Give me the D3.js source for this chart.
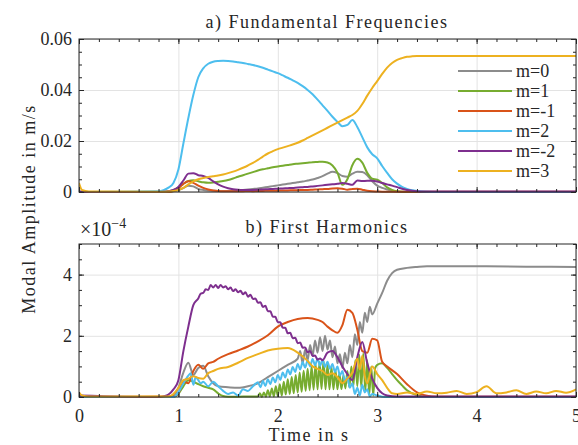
<!DOCTYPE html>
<html>
<head>
<meta charset="utf-8">
<script src="https://cdn.jsdelivr.net/npm/d3@7"></script>
<style>
  body { margin: 0; background: #fff; }
  text { font-family: "Liberation Serif", "DejaVu Serif", serif; fill: #262626; }
  .axis path { display: none; }
  .axis line { stroke: #262626; }
  .grid line { stroke: #e3e3e3; }
  .grid path { display: none; }
</style>
</head>
<body>
<script>
// series names / colours (plot order)
var modes = ["m=0", "m=1", "m=-1", "m=2", "m=-2", "m=3"];
var colors = ["#8c8c8c", "#77ac30", "#d95319", "#4dbeee", "#7e2f8e", "#edb120"];

// ---------- a) fundamental frequencies, m/s ----------
var tTop = [0, 0.03, 0.1, 0.8, 0.85, 0.9, 0.95, 1.0, 1.05, 1.1, 1.15, 1.2, 1.25, 1.3, 1.35, 1.4, 1.45, 1.5,
  1.55, 1.6, 1.65, 1.7, 1.75, 1.8, 1.85, 1.9, 1.95, 2.0, 2.05, 2.1, 2.15, 2.2, 2.25, 2.3, 2.35, 2.4, 2.45,
  2.5, 2.55, 2.6, 2.65, 2.7, 2.75, 2.8, 2.85, 2.9, 2.95, 3.0, 3.05, 3.1, 3.15, 3.2, 3.25, 3.3, 3.35, 3.4,
  3.45, 3.5, 3.6, 3.8, 4.0, 5.0];

var topM0 = [0, 0, 0, 0, 0, 0, 0.0003, 0.0008, 0.0015, 0.0025, 0.0022, 0.0012, 0.0008, 0.0006, 0.0005, 0.0004, 0.0004, 0.0004,
  0.0005, 0.0006, 0.0008, 0.001, 0.0012, 0.0014, 0.0017, 0.002, 0.0023, 0.0026, 0.0029, 0.0032, 0.0035, 0.0038, 0.0041, 0.0045, 0.0049, 0.0055, 0.0062,
  0.0072, 0.0079, 0.0074, 0.0063, 0.006, 0.0072, 0.0079, 0.0078, 0.0066, 0.0042, 0.0025, 0.0016, 0.001, 0.0005, 0.0002, 0.0001, 0, 0, 0,
  0, 0, 0, 0, 0, 0];
var topM1 = [0, 0, 0, 0, 0.0001, 0.0003, 0.0008, 0.0018, 0.0032, 0.0043, 0.0046, 0.0042, 0.0038, 0.0036, 0.0037, 0.004, 0.0043, 0.0047,
  0.0053, 0.006, 0.0066, 0.0072, 0.0078, 0.0084, 0.0089, 0.0093, 0.0097, 0.01, 0.0103, 0.0106, 0.0109, 0.0111, 0.0113, 0.0115, 0.0117, 0.0118, 0.0119,
  0.0116, 0.0104, 0.0076, 0.0028, 0.005, 0.0105, 0.013, 0.0115, 0.0075, 0.0052, 0.0048, 0.0035, 0.0018, 0.0008, 0.0003, 0.0001, 0, 0, 0,
  0, 0, 0, 0, 0, 0];
var topMm1 = [0, 0, 0, 0, 0, 0, 0.0005, 0.0015, 0.0032, 0.0042, 0.0036, 0.0025, 0.0016, 0.001, 0.0006, 0.0004, 0.0003, 0.0003,
  0.0003, 0.0003, 0.0003, 0.0004, 0.0003, 0.0004, 0.0004, 0.0005, 0.0005, 0.0005, 0.0006, 0.0006, 0.0007, 0.0007, 0.0008, 0.0008, 0.0009, 0.001, 0.0011,
  0.0012, 0.0014, 0.0015, 0.0013, 0.0009, 0.0012, 0.0013, 0.0009, 0.0005, 0.0003, 0.0002, 0.0001, 0.0001, 0.0001, 0.0001, 0.0001, 0.0001, 0.0001, 0.0001,
  0.0001, 0.0001, 0.0001, 0.0001, 0.0001, 0.0001];
var topM2 = [0, 0, 0, 0.0003, 0.0007, 0.0017, 0.0035, 0.0088, 0.019, 0.029, 0.038, 0.045, 0.0485, 0.0503, 0.0511, 0.0514, 0.0515, 0.0514,
  0.0512, 0.0509, 0.0506, 0.0502, 0.0498, 0.0493, 0.0487, 0.048, 0.0473, 0.0466, 0.0457, 0.0448, 0.0438, 0.0428, 0.0415, 0.04, 0.0383, 0.0362, 0.034,
  0.0318, 0.0295, 0.0275, 0.0258, 0.0263, 0.0282, 0.0255, 0.0215, 0.0175, 0.0148, 0.0132, 0.0102, 0.0075, 0.005, 0.0033, 0.002, 0.0012, 0.0007, 0.0004,
  0.0002, 0.0001, 0, 0, 0, 0];
var topMm2 = [0.0003, 0.0001, 0, 0, 0.0001, 0.0003, 0.0008, 0.002, 0.0045, 0.0072, 0.0074, 0.0066, 0.0063, 0.0055, 0.0042, 0.003, 0.0021, 0.0015,
  0.0011, 0.0009, 0.0008, 0.0008, 0.0008, 0.0009, 0.001, 0.0011, 0.0012, 0.0013, 0.0014, 0.0015, 0.0016, 0.0018, 0.0019, 0.002, 0.0022, 0.0024, 0.0026,
  0.0028, 0.003, 0.0032, 0.0035, 0.0032, 0.0028, 0.0045, 0.0043, 0.0044, 0.0044, 0.0041, 0.0035, 0.003, 0.0025, 0.0019, 0.0013, 0.0008, 0.0005, 0.0003,
  0.0002, 0.0002, 0.0002, 0.0002, 0.0002, 0.0002];
var topM3 = [0.0035, 0.0008, 0.0002, 0.0001, 0.0001, 0.0002, 0.0004, 0.0008, 0.0016, 0.003, 0.0042, 0.005, 0.0055, 0.0059, 0.0062, 0.0065, 0.0069, 0.0074,
  0.008, 0.0087, 0.0095, 0.0104, 0.0114, 0.0126, 0.0139, 0.0151, 0.016, 0.0168, 0.0174, 0.018, 0.0186, 0.0193, 0.0202, 0.0212, 0.0222, 0.0232, 0.0242,
  0.0252, 0.0262, 0.0272, 0.0282, 0.0292, 0.0302, 0.0318, 0.0345, 0.0378, 0.0408, 0.0435, 0.0463, 0.0488, 0.0506, 0.0518, 0.0525, 0.053, 0.0532, 0.0533,
  0.0533, 0.0533, 0.0533, 0.0533, 0.0533, 0.0533];

// ---------- b) first harmonics, x 1e-4 m/s ----------
var tBotM0 = [0, 0.9, 0.95, 1.0, 1.05, 1.1, 1.15, 1.2, 1.25, 1.3, 1.35, 1.4, 1.5, 1.6, 1.7, 1.8, 1.9, 2.0, 2.1, 2.2,
  2.225, 2.25, 2.275, 2.3, 2.325, 2.35, 2.375, 2.4, 2.425, 2.45, 2.475, 2.5, 2.525, 2.55, 2.575, 2.6, 2.625, 2.65,
  2.675, 2.7, 2.725, 2.75, 2.775, 2.8, 2.825, 2.85, 2.875, 2.9, 2.925, 2.95, 3.0, 3.05, 3.1, 3.15, 3.2, 3.3, 3.4,
  3.5, 3.7, 4.0, 4.5, 5.0];
var botM0 = [0, 0, 0.05, 0.3, 0.8, 1.12, 0.72, 0.95, 1.02, 0.68, 0.45, 0.35, 0.32, 0.3, 0.35, 0.45, 0.65, 0.85, 1.05, 1.25,
  1.5, 1.1, 1.55, 1.2, 1.7, 1.35, 1.85, 1.45, 1.95, 1.5, 2.0, 1.55, 1.85, 1.3, 1.65, 1.1, 1.4, 0.95,
  1.45, 1.1, 1.7, 1.3, 2.05, 1.7, 2.45, 2.1, 2.75, 2.45, 2.95, 2.7, 3.05, 3.4, 3.8, 4.05, 4.16, 4.22, 4.25,
  4.27, 4.27, 4.27, 4.26, 4.25];

var tBotM1 = [0, 0.95, 1.0, 1.05, 1.1, 1.15, 1.2, 1.25, 1.3, 1.35, 1.4, 1.45, 1.5, 1.6, 1.7,
  1.8, 1.82, 1.84, 1.86, 1.88, 1.9, 1.92, 1.94, 1.96, 1.98, 2.0, 2.02, 2.04, 2.06, 2.08, 2.1, 2.12, 2.14, 2.16, 2.18,
  2.2, 2.22, 2.24, 2.26, 2.28, 2.3, 2.32, 2.34, 2.36, 2.38, 2.4, 2.42, 2.44, 2.46, 2.48, 2.5, 2.52, 2.54, 2.56, 2.58,
  2.6, 2.62, 2.64, 2.66, 2.68, 2.7, 2.72, 2.74, 2.76, 2.78, 2.8, 2.82, 2.84, 2.86, 2.88, 2.9, 2.92, 2.94, 2.96, 2.98,
  3.0, 3.05, 3.1, 3.15, 3.2, 3.25, 3.3, 3.4, 3.5, 5.0];
var botM1 = [0, 0, 0.1, 0.35, 0.55, 0.5, 0.42, 0.35, 0.3, 0.25, 0.12, 0.03, 0.01, 0.01, 0.02,
  0.02, 0.12, 0, 0.15, 0.01, 0.22, 0.02, 0.28, 0.02, 0.35, 0.03, 0.42, 0.05, 0.5, 0.08, 0.58, 0.1, 0.65, 0.12, 0.72,
  0.15, 0.8, 0.17, 0.86, 0.2, 0.92, 0.22, 1.0, 0.24, 1.08, 0.25, 1.15, 0.26, 1.2, 0.25, 1.08, 0.25, 0.98, 0.25, 0.88,
  0.25, 0.78, 0.26, 0.7, 0.28, 0.85, 0.32, 1.0, 0.35, 1.2, 0.35, 1.38, 0.32, 1.42, 0.2, 1.2, 0.08, 1.0, 0.05, 0.95,
  1.05, 1.1, 0.95, 0.75, 0.55, 0.38, 0.22, 0.06, 0, 0];

var tBotMm1 = [0, 0.95, 1.0, 1.05, 1.1, 1.15, 1.2, 1.25, 1.3, 1.35, 1.4, 1.5, 1.6, 1.7, 1.8, 1.9, 2.0, 2.1, 2.2, 2.3,
  2.4, 2.45, 2.5, 2.55, 2.6, 2.65, 2.7, 2.75, 2.8, 2.85, 2.9, 2.95, 3.0, 3.05, 3.1, 3.2, 3.3, 3.4, 3.5, 3.6, 5.0];
var botMm1 = [0, 0.02, 0.12, 0.5, 0.45, 0.85, 1.05, 0.92, 1.1, 1.15, 1.25, 1.4, 1.52, 1.65, 1.82, 2.02, 2.3, 2.45, 2.55, 2.58,
  2.52, 2.45, 2.3, 2.18, 2.1, 2.35, 2.85, 2.75, 2.2, 1.5, 1.45, 1.9, 1.85, 1.15, 1.0, 0.75, 0.42, 0.15, 0.04, 0.01, 0.01];

var tBotM2 = [0, 0.95, 1.0, 1.05, 1.1, 1.125, 1.15, 1.175, 1.2, 1.225, 1.25, 1.3, 1.35, 1.4, 1.45, 1.5, 1.55, 1.6, 1.65, 1.7, 1.75,
  1.8, 1.825, 1.85, 1.875, 1.9, 1.925, 1.95, 1.975, 2.0, 2.025, 2.05, 2.075, 2.1, 2.125, 2.15, 2.175, 2.2, 2.225,
  2.25, 2.275, 2.3, 2.325, 2.35, 2.375, 2.4, 2.425, 2.45, 2.475, 2.5, 2.525, 2.55, 2.575, 2.6, 2.625, 2.65, 2.675,
  2.7, 2.725, 2.75, 2.775, 2.8, 2.825, 2.85, 2.875, 2.9, 2.925, 2.95, 3.0, 3.05, 3.1, 5.0];
var botM2 = [0, 0, 0.15, 0.45, 0.7, 0.78, 0.4, 0.65, 0.55, 0.45, 0.5, 0.35, 0.5, 0.35, 0.2, 0.1, 0.15, 0.05, 0.25, 0.2, 0.35,
  0.48, 0.32, 0.52, 0.36, 0.58, 0.42, 0.64, 0.48, 0.72, 0.56, 0.8, 0.64, 0.9, 0.74, 0.98, 0.82, 1.08, 0.9,
  1.14, 0.96, 1.2, 1.0, 1.24, 1.04, 1.25, 1.02, 1.22, 0.98, 1.15, 0.92, 1.08, 0.82, 1.0, 0.7, 0.85, 0.5,
  0.65, 0.3, 0.45, 0.1, 0.3, 0.05, 0.4, 0.15, 0.25, 0.02, 0.1, 0.05, 0.01, 0, 0];

var tBotMm2 = [0, 0.8, 0.85, 0.9, 0.95, 1.0, 1.05, 1.1, 1.15,
  1.2, 1.225, 1.25, 1.275, 1.3, 1.325, 1.35, 1.375, 1.4, 1.425,
  1.45, 1.475, 1.5, 1.525, 1.55, 1.575, 1.6, 1.625, 1.65, 1.675,
  1.7, 1.725, 1.75, 1.775, 1.8, 1.825, 1.85, 1.875, 1.9, 1.925,
  1.95, 1.975, 2.0, 2.025, 2.05, 2.075, 2.1, 2.125, 2.15, 2.175,
  2.2, 2.225, 2.25, 2.275, 2.3, 2.325, 2.35, 2.375, 2.4, 2.425,
  2.45, 2.5, 2.55, 2.6, 2.65, 2.7, 2.75, 2.8, 2.85, 2.9, 2.95, 3.0, 3.05, 3.1, 3.2, 5.0];
var botMm2 = [0.05, 0, 0.02, 0.08, 0.25, 0.55, 1.5, 2.3, 3.0,
  3.22, 3.38, 3.4, 3.52, 3.5, 3.66, 3.58, 3.66, 3.56, 3.66,
  3.58, 3.62, 3.52, 3.58, 3.46, 3.52, 3.42, 3.47, 3.36, 3.42,
  3.28, 3.34, 3.2, 3.22, 3.08, 3.1, 2.94, 2.98, 2.8, 2.8,
  2.62, 2.62, 2.44, 2.44, 2.26, 2.26, 2.08, 2.1, 1.92, 1.94,
  1.76, 1.78, 1.61, 1.62, 1.46, 1.5, 1.34, 1.36, 1.22, 1.26,
  1.2, 1.45, 1.5, 1.3, 1.0, 0.75, 0.55, 1.3, 1.8, 1.1, 0.6, 0.3, 0.12, 0.05, 0.02, 0.02];

var tBotM3 = [0, 0.03, 0.1, 0.9, 0.95, 1.0, 1.05, 1.1, 1.15, 1.2, 1.25, 1.3, 1.35, 1.4, 1.5, 1.6, 1.7, 1.8, 1.9, 2.0,
  2.1, 2.2, 2.3, 2.35, 2.4, 2.45, 2.5, 2.55, 2.6, 2.65, 2.7, 2.75, 2.8, 2.825, 2.85, 2.875, 2.9, 2.95, 3.0, 3.05,
  3.1, 3.15, 3.2, 3.3, 3.4, 3.5, 3.6, 3.7, 3.8, 3.9, 4.0, 4.1, 4.2, 4.3, 4.4, 4.5, 4.6, 4.7, 4.8, 4.9, 5.0];
var botM3 = [0.15, 0.05, 0.02, 0.02, 0.1, 0.3, 0.55, 0.6, 0.68, 0.62, 0.6, 0.78, 0.85, 0.92, 0.98, 1.12, 1.28, 1.4, 1.52, 1.58,
  1.6, 1.45, 1.18, 1.0, 0.92, 0.85, 0.72, 0.78, 0.65, 0.45, 0.6, 0.8, 1.25, 0.9, 1.35, 0.7, 0.45, 1.0, 0.75, 0.55,
  0.3, 0.12, 0.1, 0.15, 0.1, 0.18, 0.12, 0.14, 0.2, 0.1, 0.16, 0.35, 0.12, 0.15, 0.22, 0.1, 0.18, 0.12, 0.2, 0.14, 0.25];

// tick values
var xTicks = [0, 1, 2, 3, 4, 5];
var yTopTicks = [0, 0.02, 0.04, 0.06];
var yBotTicks = [0, 2, 4];

var w = 578, h = 445;
var left = 79, right = 576;

var svg = d3.select("body").append("svg")
    .attr("width", w)
    .attr("height", h);

var xScale = d3.scaleLinear().domain([0, 5]).range([left, right]);

function pts(t, v) {
    return t.map(function(d, i) { return { t: d, v: v[i] }; });
}

function drawPanel(opt) {
    var y = opt.y;
    var top = y.range()[1], bottom = y.range()[0];
    var g = svg.append("g");

    // grid
    g.append("g").attr("class", "grid")
        .attr("transform", "translate(0," + bottom + ")")
        .call(d3.axisBottom(xScale).tickValues(xTicks).tickSize(-(bottom - top)).tickFormat(""));
    g.append("g").attr("class", "grid")
        .attr("transform", "translate(" + left + ",0)")
        .call(d3.axisLeft(y).tickValues(opt.yTicks).tickSize(-(right - left)).tickFormat(""));

    // lines
    var clipId = "clip" + opt.id;
    svg.append("clipPath").attr("id", clipId)
        .append("rect").attr("x", left).attr("y", top - 1).attr("width", right - left).attr("height", bottom - top + 2);

    var line = d3.line()
        .x(function(d) { return xScale(d.t); })
        .y(function(d) { return y(d.v); })
        .curve(d3.curveMonotoneX);

    g.append("g").attr("clip-path", "url(#" + clipId + ")")
        .selectAll("path")
        .data(opt.series)
        .enter().append("path")
        .attr("d", function(d) { return line(d); })
        .attr("fill", "none")
        .attr("stroke", function(d, i) { return colors[i]; })
        .attr("stroke-width", 2)
        .attr("stroke-linejoin", "round");

    // box
    g.append("rect")
        .attr("x", left).attr("y", top)
        .attr("width", right - left).attr("height", bottom - top)
        .attr("fill", "none").attr("stroke", "#262626").attr("stroke-width", 1);

    // major + minor ticks, all four sides, pointing inward
    var xMinor = d3.range(0, 5.001, 0.2);
    var yMinor = d3.range(0, opt.yMax * 1.0001, opt.yMinorStep);
    [[d3.axisBottom, bottom], [d3.axisTop, top]].forEach(function(a) {
        g.append("g").attr("class", "axis").attr("transform", "translate(0," + a[1] + ")")
            .call(a[0](xScale).tickValues(xMinor).tickSize(-3).tickFormat(""));
        g.append("g").attr("class", "axis").attr("transform", "translate(0," + a[1] + ")")
            .call(a[0](xScale).tickValues(xTicks).tickSize(-5).tickFormat(""));
    });
    [[d3.axisLeft, left], [d3.axisRight, right]].forEach(function(a) {
        g.append("g").attr("class", "axis").attr("transform", "translate(" + a[1] + ",0)")
            .call(a[0](y).tickValues(yMinor).tickSize(-3).tickFormat(""));
        g.append("g").attr("class", "axis").attr("transform", "translate(" + a[1] + ",0)")
            .call(a[0](y).tickValues(opt.yTicks).tickSize(-5).tickFormat(""));
    });

    // y tick labels
    var yl = g.append("g").attr("class", "axis").attr("transform", "translate(" + left + ",0)")
        .call(d3.axisLeft(y).tickValues(opt.yTicks).tickSize(0).tickPadding(7).tickFormat(opt.yFormat));
    yl.selectAll("text").attr("font-size", 18).attr("font-family", null);
    yl.selectAll("line").remove();

    if (opt.xLabels) {
        var xl = g.append("g").attr("class", "axis").attr("transform", "translate(0," + bottom + ")")
            .call(d3.axisBottom(xScale).tickValues(xTicks).tickSize(0).tickPadding(12).tickFormat(d3.format("d")));
        xl.selectAll("text").attr("font-size", 18).attr("font-family", null);
        xl.selectAll("line").remove();
    }

    // title
    svg.append("text")
        .attr("x", 327).attr("y", opt.titleY)
        .attr("text-anchor", "middle")
        .attr("font-size", 18)
        .attr("letter-spacing", "1.5px")
        .text(opt.title);
}

var yTop = d3.scaleLinear().domain([0, 0.06]).range([192, 39]);
var yBot = d3.scaleLinear().domain([0, 5]).range([397, 244]);

drawPanel({
    id: "a", y: yTop, yTicks: yTopTicks, yMax: 0.06, yMinorStep: 0.005,
    yFormat: function(d) { return d === 0 ? "0" : d3.format(".2f")(d); },
    series: [pts(tTop, topM0), pts(tTop, topM1), pts(tTop, topMm1), pts(tTop, topM2), pts(tTop, topMm2), pts(tTop, topM3)],
    title: "a) Fundamental Frequencies", titleY: 28, xLabels: false
});

drawPanel({
    id: "b", y: yBot, yTicks: yBotTicks, yMax: 5, yMinorStep: 0.5,
    yFormat: d3.format("d"),
    series: [pts(tBotM0, botM0), pts(tBotM1, botM1), pts(tBotMm1, botMm1), pts(tBotM2, botM2), pts(tBotMm2, botMm2), pts(tBotM3, botM3)],
    title: "b) First Harmonics", titleY: 233, xLabels: true
});

// exponent label for lower panel
var ex = svg.append("text").attr("x", 80).attr("y", 236).attr("font-size", 20);
ex.append("tspan").text("\u00d710");
ex.append("tspan").attr("dy", -8).attr("font-size", 14).text("\u22124");

// legend (no box)
var legend = svg.append("g");
modes.forEach(function(m, i) {
    var ly = 71 + i * 20;
    legend.append("line")
        .attr("x1", 458).attr("x2", 512).attr("y1", ly).attr("y2", ly)
        .attr("stroke", colors[i]).attr("stroke-width", 2);
    legend.append("text")
        .attr("x", 516).attr("y", ly + 6)
        .attr("font-size", 18)
        .text(m);
});

// axis labels
svg.append("text")
    .attr("x", 309).attr("y", 441)
    .attr("text-anchor", "middle")
    .attr("font-size", 18)
    .attr("letter-spacing", "1.5px")
    .text("Time in s");

svg.append("text")
    .attr("transform", "translate(35,209) rotate(-90)")
    .attr("text-anchor", "middle")
    .attr("font-size", 18)
    .attr("letter-spacing", "1.5px")
    .text("Modal Amplitude in m/s");
</script>
</body>
</html>
